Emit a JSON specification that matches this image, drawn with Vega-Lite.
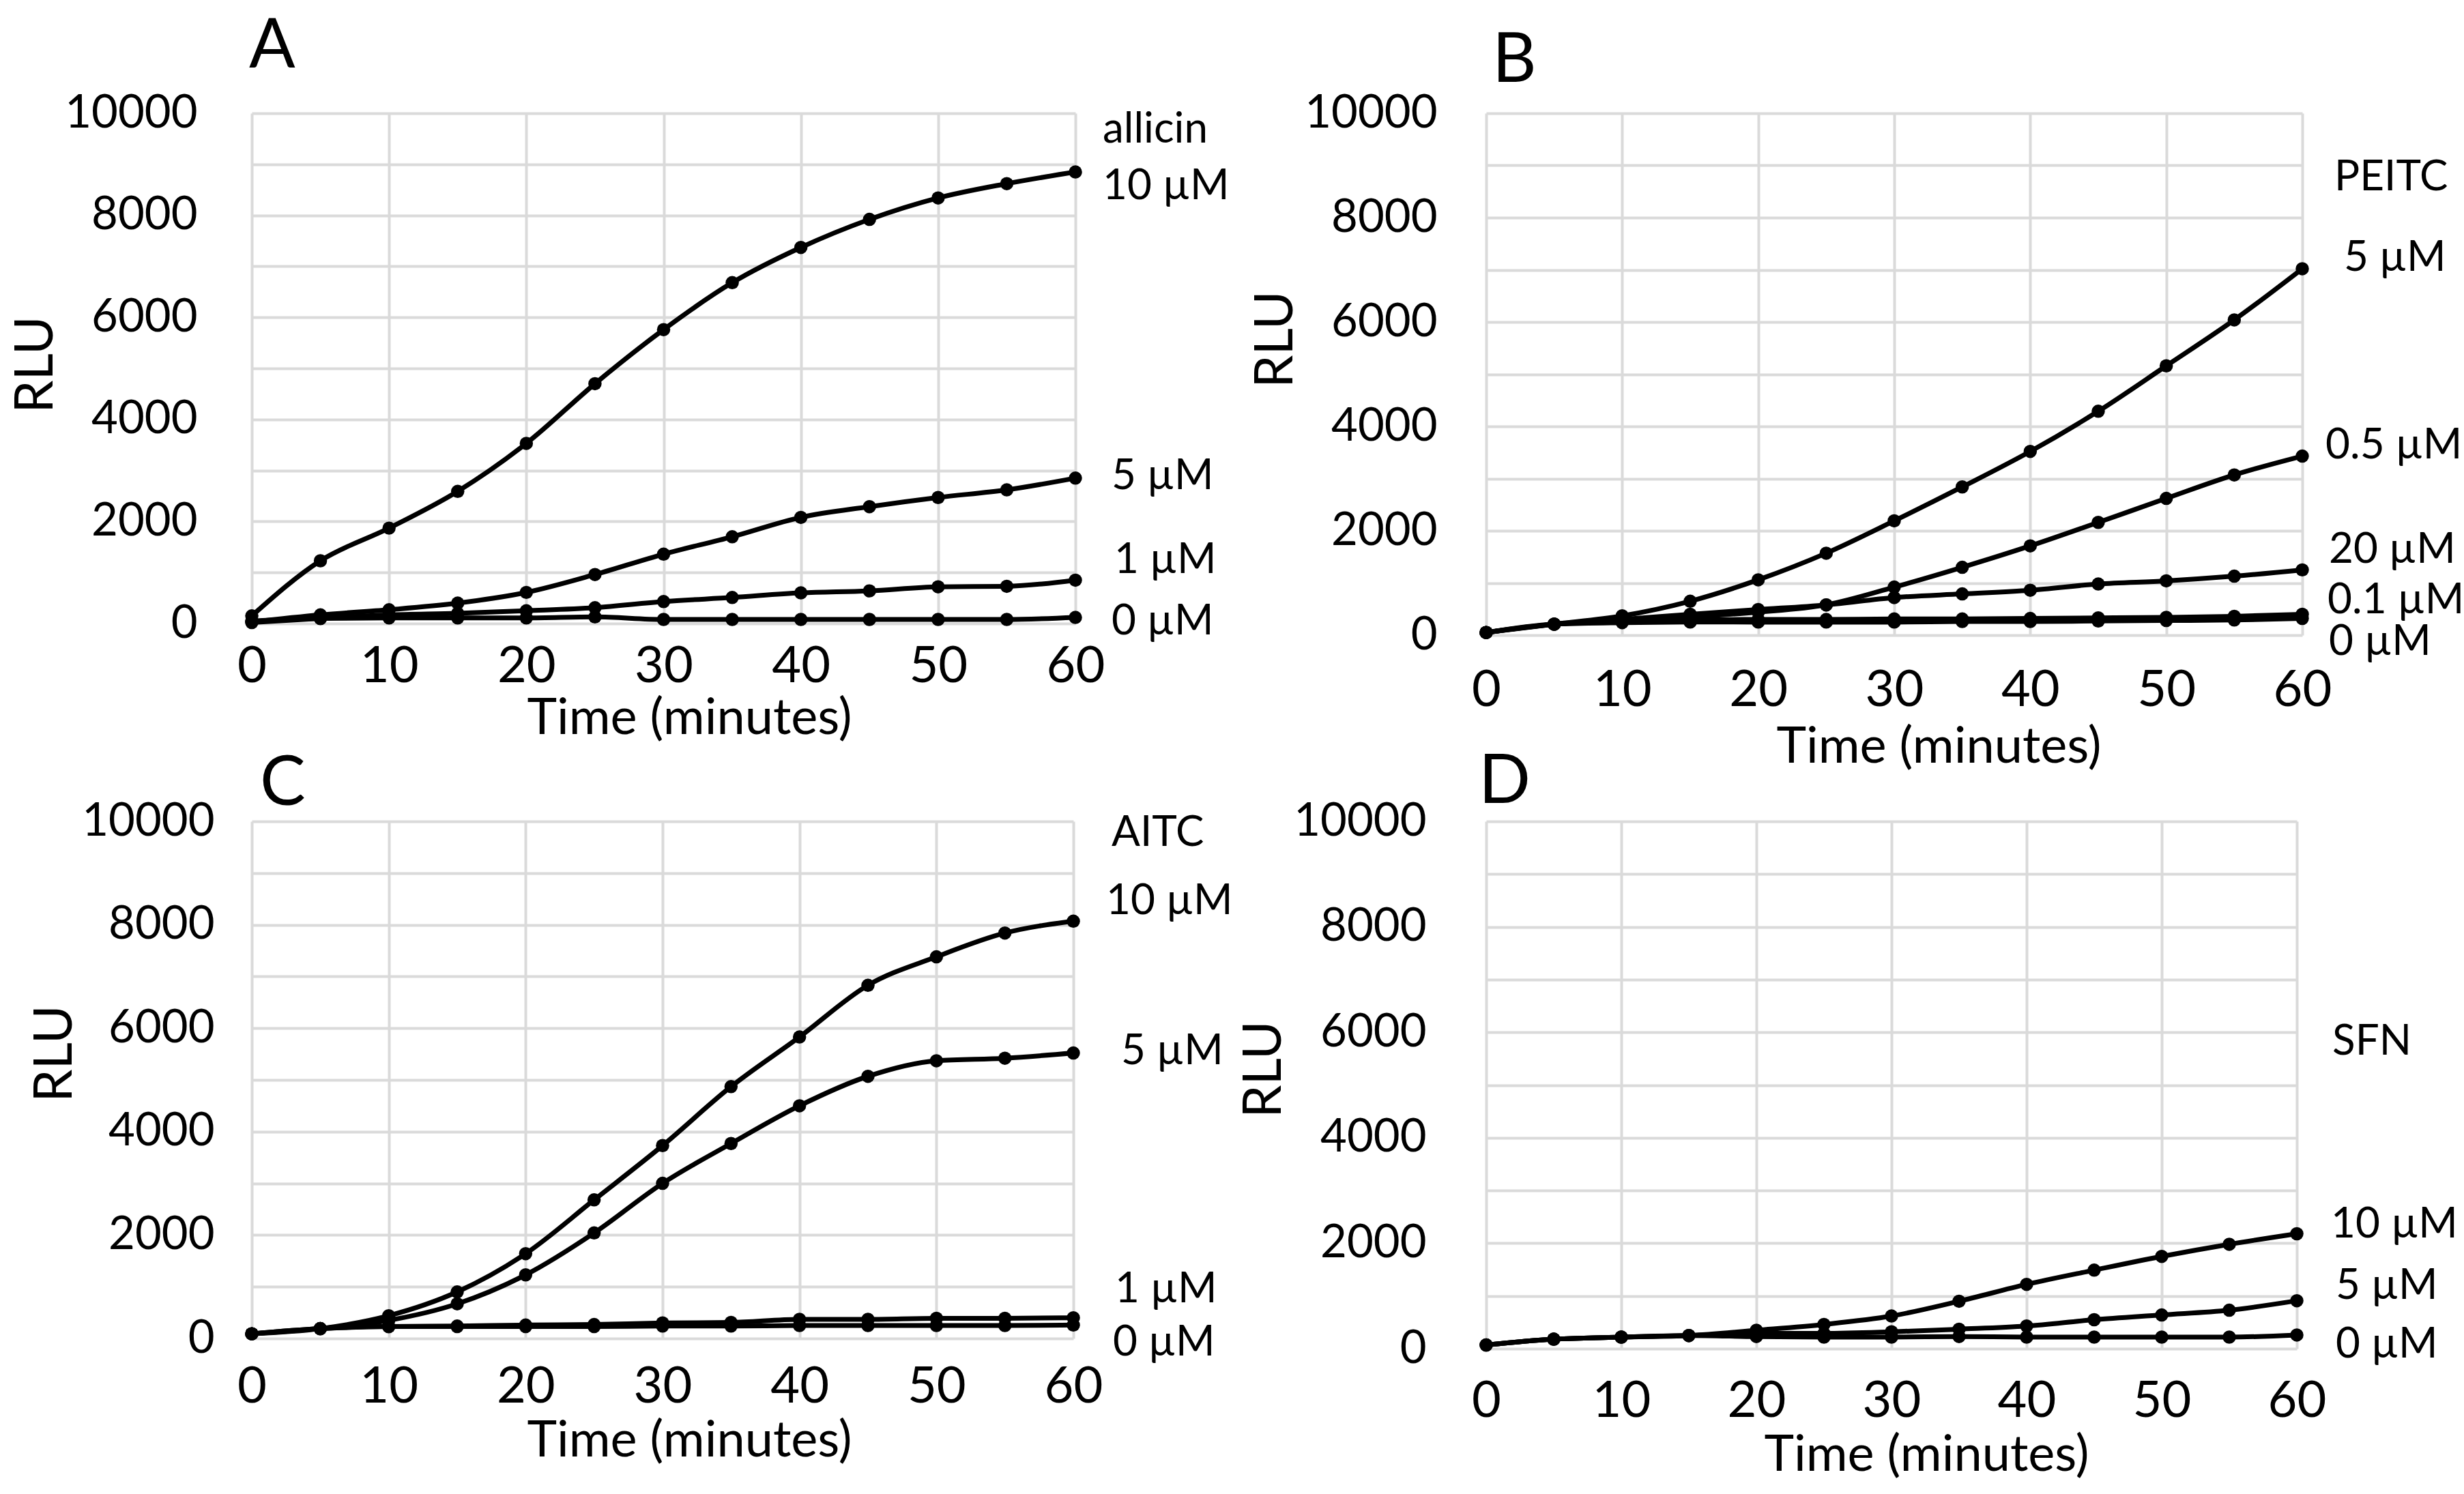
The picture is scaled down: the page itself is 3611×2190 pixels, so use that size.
{
"$schema": "https://vega.github.io/schema/vega-lite/v6.json",
"background": "white",
"padding": {"left": 14, "top": 19, "right": 10, "bottom": 10},
"config": {
  "view": {"stroke": null},
  "font": "Lato",
  "axis": {"labelFont": "Lato", "titleFont": "Lato", "titleFontWeight": "normal", "labelColor": "black", "titleColor": "black", "grid": true, "gridColor": "#dadada", "gridWidth": 4, "domain": false, "ticks": false, "labelFlush": false, "labelOverlap": false, "labelLimit": 500},
  "axisX": {"labelFontSize": 74, "titleFontSize": 74},
  "axisY": {"labelFontSize": 67, "titleFontSize": 77, "titleBaseline": "alphabetic", "titleAngle": 270},
  "title": {"font": "Lato", "fontSize": 100, "fontWeight": "normal", "anchor": "start", "frame": "group", "baseline": "alphabetic", "color": "black"}
},
"datasets": {
  "curves": [
    {"panel":"A","series":"10","t":0,"v":150},{"panel":"A","series":"10","t":5,"v":1230},{"panel":"A","series":"10","t":10,"v":1870},{"panel":"A","series":"10","t":15,"v":2590},{"panel":"A","series":"10","t":20,"v":3530},{"panel":"A","series":"10","t":25,"v":4700},{"panel":"A","series":"10","t":30,"v":5760},{"panel":"A","series":"10","t":35,"v":6680},{"panel":"A","series":"10","t":40,"v":7370},{"panel":"A","series":"10","t":45,"v":7920},{"panel":"A","series":"10","t":50,"v":8340},{"panel":"A","series":"10","t":55,"v":8620},{"panel":"A","series":"10","t":60,"v":8850},
    {"panel":"A","series":"5","t":0,"v":30},{"panel":"A","series":"5","t":5,"v":170},{"panel":"A","series":"5","t":10,"v":270},{"panel":"A","series":"5","t":15,"v":400},{"panel":"A","series":"5","t":20,"v":610},{"panel":"A","series":"5","t":25,"v":960},{"panel":"A","series":"5","t":30,"v":1360},{"panel":"A","series":"5","t":35,"v":1700},{"panel":"A","series":"5","t":40,"v":2080},{"panel":"A","series":"5","t":45,"v":2290},{"panel":"A","series":"5","t":50,"v":2470},{"panel":"A","series":"5","t":55,"v":2620},{"panel":"A","series":"5","t":60,"v":2850},
    {"panel":"A","series":"1","t":0,"v":20},{"panel":"A","series":"1","t":5,"v":100},{"panel":"A","series":"1","t":10,"v":170},{"panel":"A","series":"1","t":15,"v":200},{"panel":"A","series":"1","t":20,"v":250},{"panel":"A","series":"1","t":25,"v":310},{"panel":"A","series":"1","t":30,"v":430},{"panel":"A","series":"1","t":35,"v":510},{"panel":"A","series":"1","t":40,"v":600},{"panel":"A","series":"1","t":45,"v":640},{"panel":"A","series":"1","t":50,"v":720},{"panel":"A","series":"1","t":55,"v":730},{"panel":"A","series":"1","t":60,"v":850},
    {"panel":"A","series":"0","t":0,"v":50},{"panel":"A","series":"0","t":5,"v":100},{"panel":"A","series":"0","t":10,"v":110},{"panel":"A","series":"0","t":15,"v":110},{"panel":"A","series":"0","t":20,"v":110},{"panel":"A","series":"0","t":25,"v":130},{"panel":"A","series":"0","t":30,"v":80},{"panel":"A","series":"0","t":35,"v":80},{"panel":"A","series":"0","t":40,"v":80},{"panel":"A","series":"0","t":45,"v":80},{"panel":"A","series":"0","t":50,"v":80},{"panel":"A","series":"0","t":55,"v":80},{"panel":"A","series":"0","t":60,"v":120},
    {"panel":"B","series":"5","t":0,"v":50},{"panel":"B","series":"5","t":5,"v":210},{"panel":"B","series":"5","t":10,"v":370},{"panel":"B","series":"5","t":15,"v":650},{"panel":"B","series":"5","t":20,"v":1060},{"panel":"B","series":"5","t":25,"v":1570},{"panel":"B","series":"5","t":30,"v":2190},{"panel":"B","series":"5","t":35,"v":2840},{"panel":"B","series":"5","t":40,"v":3520},{"panel":"B","series":"5","t":45,"v":4290},{"panel":"B","series":"5","t":50,"v":5160},{"panel":"B","series":"5","t":55,"v":6040},{"panel":"B","series":"5","t":60,"v":7020},
    {"panel":"B","series":"0.5","t":0,"v":50},{"panel":"B","series":"0.5","t":5,"v":210},{"panel":"B","series":"0.5","t":10,"v":290},{"panel":"B","series":"0.5","t":15,"v":350},{"panel":"B","series":"0.5","t":20,"v":440},{"panel":"B","series":"0.5","t":25,"v":580},{"panel":"B","series":"0.5","t":30,"v":920},{"panel":"B","series":"0.5","t":35,"v":1300},{"panel":"B","series":"0.5","t":40,"v":1710},{"panel":"B","series":"0.5","t":45,"v":2160},{"panel":"B","series":"0.5","t":50,"v":2620},{"panel":"B","series":"0.5","t":55,"v":3070},{"panel":"B","series":"0.5","t":60,"v":3430},
    {"panel":"B","series":"20","t":0,"v":50},{"panel":"B","series":"20","t":5,"v":210},{"panel":"B","series":"20","t":10,"v":300},{"panel":"B","series":"20","t":15,"v":400},{"panel":"B","series":"20","t":20,"v":490},{"panel":"B","series":"20","t":25,"v":580},{"panel":"B","series":"20","t":30,"v":720},{"panel":"B","series":"20","t":35,"v":790},{"panel":"B","series":"20","t":40,"v":860},{"panel":"B","series":"20","t":45,"v":980},{"panel":"B","series":"20","t":50,"v":1040},{"panel":"B","series":"20","t":55,"v":1130},{"panel":"B","series":"20","t":60,"v":1250},
    {"panel":"B","series":"0.1","t":0,"v":50},{"panel":"B","series":"0.1","t":5,"v":210},{"panel":"B","series":"0.1","t":10,"v":260},{"panel":"B","series":"0.1","t":15,"v":290},{"panel":"B","series":"0.1","t":20,"v":300},{"panel":"B","series":"0.1","t":25,"v":300},{"panel":"B","series":"0.1","t":30,"v":310},{"panel":"B","series":"0.1","t":35,"v":310},{"panel":"B","series":"0.1","t":40,"v":320},{"panel":"B","series":"0.1","t":45,"v":330},{"panel":"B","series":"0.1","t":50,"v":340},{"panel":"B","series":"0.1","t":55,"v":360},{"panel":"B","series":"0.1","t":60,"v":400},
    {"panel":"B","series":"0","t":0,"v":50},{"panel":"B","series":"0","t":5,"v":210},{"panel":"B","series":"0","t":10,"v":240},{"panel":"B","series":"0","t":15,"v":250},{"panel":"B","series":"0","t":20,"v":250},{"panel":"B","series":"0","t":25,"v":250},{"panel":"B","series":"0","t":30,"v":250},{"panel":"B","series":"0","t":35,"v":260},{"panel":"B","series":"0","t":40,"v":260},{"panel":"B","series":"0","t":45,"v":270},{"panel":"B","series":"0","t":50,"v":280},{"panel":"B","series":"0","t":55,"v":290},{"panel":"B","series":"0","t":60,"v":320},
    {"panel":"C","series":"10","t":0,"v":90},{"panel":"C","series":"10","t":5,"v":190},{"panel":"C","series":"10","t":10,"v":440},{"panel":"C","series":"10","t":15,"v":900},{"panel":"C","series":"10","t":20,"v":1640},{"panel":"C","series":"10","t":25,"v":2680},{"panel":"C","series":"10","t":30,"v":3730},{"panel":"C","series":"10","t":35,"v":4870},{"panel":"C","series":"10","t":40,"v":5830},{"panel":"C","series":"10","t":45,"v":6830},{"panel":"C","series":"10","t":50,"v":7380},{"panel":"C","series":"10","t":55,"v":7840},{"panel":"C","series":"10","t":60,"v":8070},
    {"panel":"C","series":"5","t":0,"v":90},{"panel":"C","series":"5","t":5,"v":190},{"panel":"C","series":"5","t":10,"v":350},{"panel":"C","series":"5","t":15,"v":670},{"panel":"C","series":"5","t":20,"v":1230},{"panel":"C","series":"5","t":25,"v":2040},{"panel":"C","series":"5","t":30,"v":3000},{"panel":"C","series":"5","t":35,"v":3770},{"panel":"C","series":"5","t":40,"v":4500},{"panel":"C","series":"5","t":45,"v":5070},{"panel":"C","series":"5","t":50,"v":5370},{"panel":"C","series":"5","t":55,"v":5420},{"panel":"C","series":"5","t":60,"v":5520},
    {"panel":"C","series":"1","t":0,"v":90},{"panel":"C","series":"1","t":5,"v":190},{"panel":"C","series":"1","t":10,"v":230},{"panel":"C","series":"1","t":15,"v":240},{"panel":"C","series":"1","t":20,"v":260},{"panel":"C","series":"1","t":25,"v":270},{"panel":"C","series":"1","t":30,"v":300},{"panel":"C","series":"1","t":35,"v":310},{"panel":"C","series":"1","t":40,"v":370},{"panel":"C","series":"1","t":45,"v":370},{"panel":"C","series":"1","t":50,"v":390},{"panel":"C","series":"1","t":55,"v":390},{"panel":"C","series":"1","t":60,"v":400},
    {"panel":"C","series":"0","t":0,"v":90},{"panel":"C","series":"0","t":5,"v":190},{"panel":"C","series":"0","t":10,"v":230},{"panel":"C","series":"0","t":15,"v":230},{"panel":"C","series":"0","t":20,"v":230},{"panel":"C","series":"0","t":25,"v":230},{"panel":"C","series":"0","t":30,"v":240},{"panel":"C","series":"0","t":35,"v":240},{"panel":"C","series":"0","t":40,"v":250},{"panel":"C","series":"0","t":45,"v":250},{"panel":"C","series":"0","t":50,"v":250},{"panel":"C","series":"0","t":55,"v":250},{"panel":"C","series":"0","t":60,"v":260},
    {"panel":"D","series":"10","t":0,"v":70},{"panel":"D","series":"10","t":5,"v":180},{"panel":"D","series":"10","t":10,"v":220},{"panel":"D","series":"10","t":15,"v":250},{"panel":"D","series":"10","t":20,"v":350},{"panel":"D","series":"10","t":25,"v":460},{"panel":"D","series":"10","t":30,"v":620},{"panel":"D","series":"10","t":35,"v":900},{"panel":"D","series":"10","t":40,"v":1220},{"panel":"D","series":"10","t":45,"v":1490},{"panel":"D","series":"10","t":50,"v":1750},{"panel":"D","series":"10","t":55,"v":1980},{"panel":"D","series":"10","t":60,"v":2180},
    {"panel":"D","series":"5","t":0,"v":70},{"panel":"D","series":"5","t":5,"v":180},{"panel":"D","series":"5","t":10,"v":220},{"panel":"D","series":"5","t":15,"v":250},{"panel":"D","series":"5","t":20,"v":290},{"panel":"D","series":"5","t":25,"v":290},{"panel":"D","series":"5","t":30,"v":320},{"panel":"D","series":"5","t":35,"v":370},{"panel":"D","series":"5","t":40,"v":430},{"panel":"D","series":"5","t":45,"v":550},{"panel":"D","series":"5","t":50,"v":640},{"panel":"D","series":"5","t":55,"v":730},{"panel":"D","series":"5","t":60,"v":910},
    {"panel":"D","series":"0","t":0,"v":70},{"panel":"D","series":"0","t":5,"v":180},{"panel":"D","series":"0","t":10,"v":220},{"panel":"D","series":"0","t":15,"v":250},{"panel":"D","series":"0","t":20,"v":230},{"panel":"D","series":"0","t":25,"v":220},{"panel":"D","series":"0","t":30,"v":220},{"panel":"D","series":"0","t":35,"v":230},{"panel":"D","series":"0","t":40,"v":220},{"panel":"D","series":"0","t":45,"v":220},{"panel":"D","series":"0","t":50,"v":220},{"panel":"D","series":"0","t":55,"v":220},{"panel":"D","series":"0","t":60,"v":260}
  ],
  "labels": [
    {"panel":"A","label":"allicin","t":61.99,"v":9425},{"panel":"A","label":"10 µM","t":61.99,"v":8316},{"panel":"A","label":"5 µM","t":62.63,"v":2634},{"panel":"A","label":"1 µM","t":62.83,"v":989},{"panel":"A","label":"0 µM","t":62.63,"v":-214},
    {"panel":"B","label":"PEITC","t":62.36,"v":8523},{"panel":"B","label":"5 µM","t":63.06,"v":6980},{"panel":"B","label":"0.5 µM","t":61.71,"v":3386},{"panel":"B","label":"20 µM","t":61.96,"v":1386},{"panel":"B","label":"0.1 µM","t":61.86,"v":418},{"panel":"B","label":"0 µM","t":61.96,"v":-379},
    {"panel":"C","label":"AITC","t":62.79,"v":9525},{"panel":"C","label":"10 µM","t":62.39,"v":8206},{"panel":"C","label":"5 µM","t":63.49,"v":5303},{"panel":"C","label":"1 µM","t":63.04,"v":699},{"panel":"C","label":"0 µM","t":62.89,"v":-330},
    {"panel":"D","label":"SFN","t":62.63,"v":5576},{"panel":"D","label":"10 µM","t":62.53,"v":2109},{"panel":"D","label":"5 µM","t":62.88,"v":944},{"panel":"D","label":"0 µM","t":62.88,"v":-168}
  ]
},
"columns": 2,
"bounds": "flush",
"spacing": {"row": 273, "column": 602},
"concat": [
  {
    "width": 1207, "height": 748,
    "title": {"text": "A", "dx": -4, "offset": 12},
    "encoding": {
      "x": {"field": "t", "type": "quantitative", "scale": {"domain": [0, 60], "nice": false, "zero": false}, "axis": {"values": [0,10,20,30,40,50,60], "title": "Time (minutes)", "labelPadding": 27, "titlePadding": 3, "titleX": 641}},
      "y": {"field": "v", "type": "quantitative", "scale": {"domain": [0, 10000], "nice": false}, "axis": {"values": [0,1000,2000,3000,4000,5000,6000,7000,8000,9000,10000], "format": "d", "labelExpr": "datum.value % 2000 === 0 ? datum.label : ''", "title": "RLU", "labelPadding": 80, "titleX": -293, "titleY": 368}}
    },
    "layer": [
      {"data": {"name": "curves"}, "transform": [{"filter": "datum.panel === 'A'"}], "mark": {"type": "line", "interpolate": "monotone", "color": "black", "strokeWidth": 7}, "encoding": {"detail": {"field": "series", "type": "nominal"}}},
      {"data": {"name": "curves"}, "transform": [{"filter": "datum.panel === 'A'"}], "mark": {"type": "circle", "color": "black", "size": 380, "opacity": 1}},
      {"data": {"name": "labels"}, "transform": [{"filter": "datum.panel === 'A'"}], "mark": {"type": "text", "align": "left", "baseline": "alphabetic", "font": "Lato", "fontSize": 62, "color": "black"}, "encoding": {"text": {"field": "label", "type": "nominal"}}}
    ]
  },
  {
    "width": 1196, "height": 765,
    "title": {"text": "B", "dx": 9, "offset": -9},
    "encoding": {
      "x": {"field": "t", "type": "quantitative", "scale": {"domain": [0, 60], "nice": false, "zero": false}, "axis": {"values": [0,10,20,30,40,50,60], "title": "Time (minutes)", "labelPadding": 45, "titlePadding": 10, "titleX": 663}},
      "y": {"field": "v", "type": "quantitative", "scale": {"domain": [0, 10000], "nice": false}, "axis": {"values": [0,1000,2000,3000,4000,5000,6000,7000,8000,9000,10000], "format": "d", "labelExpr": "datum.value % 2000 === 0 ? datum.label : ''", "title": "RLU", "labelPadding": 72, "titleX": -285, "titleY": 331}}
    },
    "layer": [
      {"data": {"name": "curves"}, "transform": [{"filter": "datum.panel === 'B'"}], "mark": {"type": "line", "interpolate": "monotone", "color": "black", "strokeWidth": 7}, "encoding": {"detail": {"field": "series", "type": "nominal"}}},
      {"data": {"name": "curves"}, "transform": [{"filter": "datum.panel === 'B'"}], "mark": {"type": "circle", "color": "black", "size": 380, "opacity": 1}},
      {"data": {"name": "labels"}, "transform": [{"filter": "datum.panel === 'B'"}], "mark": {"type": "text", "align": "left", "baseline": "alphabetic", "font": "Lato", "fontSize": 62, "color": "black"}, "encoding": {"text": {"field": "label", "type": "nominal"}}}
    ]
  },
  {
    "width": 1204, "height": 758,
    "title": {"text": "C", "dx": 12, "offset": -31},
    "encoding": {
      "x": {"field": "t", "type": "quantitative", "scale": {"domain": [0, 60], "nice": false, "zero": false}, "axis": {"values": [0,10,20,30,40,50,60], "title": "Time (minutes)", "labelPadding": 35, "titlePadding": 6, "titleX": 641}},
      "y": {"field": "v", "type": "quantitative", "scale": {"domain": [0, 10000], "nice": false}, "axis": {"values": [0,1000,2000,3000,4000,5000,6000,7000,8000,9000,10000], "format": "d", "labelExpr": "datum.value % 2000 === 0 ? datum.label : ''", "title": "RLU", "labelPadding": 55, "titleX": -265, "titleY": 340}}
    },
    "layer": [
      {"data": {"name": "curves"}, "transform": [{"filter": "datum.panel === 'C'"}], "mark": {"type": "line", "interpolate": "monotone", "color": "black", "strokeWidth": 7}, "encoding": {"detail": {"field": "series", "type": "nominal"}}},
      {"data": {"name": "curves"}, "transform": [{"filter": "datum.panel === 'C'"}], "mark": {"type": "circle", "color": "black", "size": 380, "opacity": 1}},
      {"data": {"name": "labels"}, "transform": [{"filter": "datum.panel === 'C'"}], "mark": {"type": "text", "align": "left", "baseline": "alphabetic", "font": "Lato", "fontSize": 62, "color": "black"}, "encoding": {"text": {"field": "label", "type": "nominal"}}}
    ]
  },
  {
    "width": 1188, "height": 773,
    "title": {"text": "D", "dx": -11, "offset": -28},
    "encoding": {
      "x": {"field": "t", "type": "quantitative", "scale": {"domain": [0, 60], "nice": false, "zero": false}, "axis": {"values": [0,10,20,30,40,50,60], "title": "Time (minutes)", "labelPadding": 41, "titlePadding": 6, "titleX": 645}},
      "y": {"field": "v", "type": "quantitative", "scale": {"domain": [0, 10000], "nice": false}, "axis": {"values": [0,1000,2000,3000,4000,5000,6000,7000,8000,9000,10000], "format": "d", "labelExpr": "datum.value % 2000 === 0 ? datum.label : ''", "title": "RLU", "labelPadding": 88, "titleX": -302, "titleY": 363}}
    },
    "layer": [
      {"data": {"name": "curves"}, "transform": [{"filter": "datum.panel === 'D'"}], "mark": {"type": "line", "interpolate": "monotone", "color": "black", "strokeWidth": 7}, "encoding": {"detail": {"field": "series", "type": "nominal"}}},
      {"data": {"name": "curves"}, "transform": [{"filter": "datum.panel === 'D'"}], "mark": {"type": "circle", "color": "black", "size": 380, "opacity": 1}},
      {"data": {"name": "labels"}, "transform": [{"filter": "datum.panel === 'D'"}], "mark": {"type": "text", "align": "left", "baseline": "alphabetic", "font": "Lato", "fontSize": 62, "color": "black"}, "encoding": {"text": {"field": "label", "type": "nominal"}}}
    ]
  }
]
}
